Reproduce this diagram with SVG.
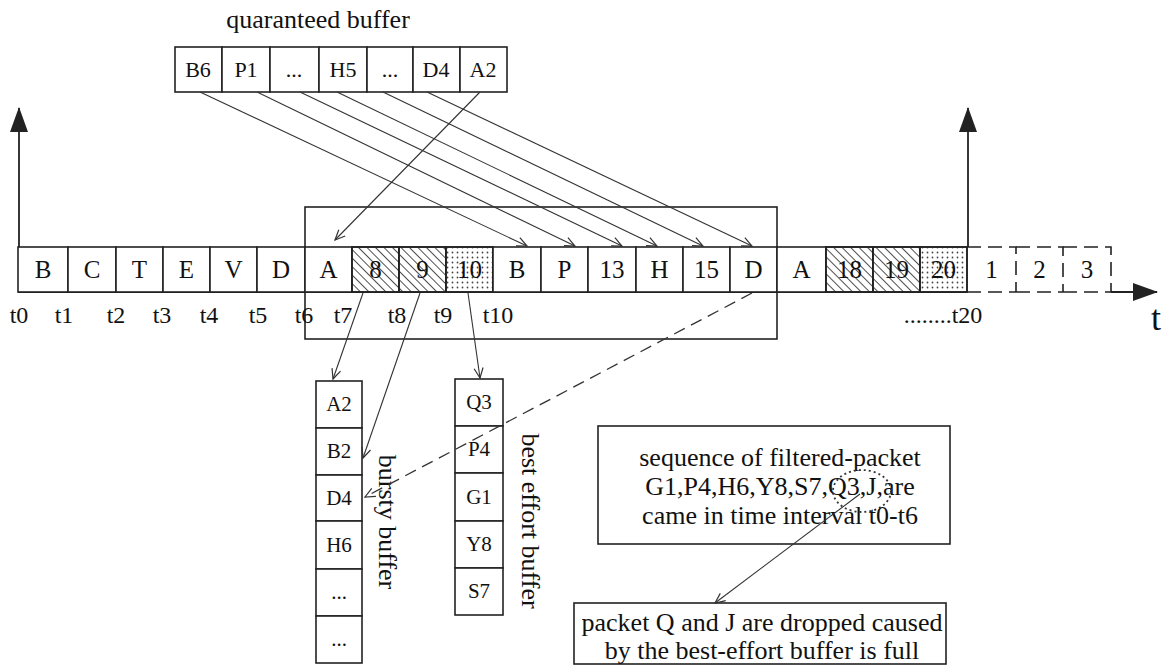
<svg xmlns="http://www.w3.org/2000/svg" width="1164" height="665" viewBox="0 0 1164 665">
<style>
text{font-family:"Liberation Serif","Times New Roman",serif;fill:#111;text-anchor:middle}
.box{fill:#fff;stroke:#222;stroke-width:1.6}
.frame{fill:none;stroke:#222;stroke-width:1.6}
.dash{fill:none;stroke:#222;stroke-width:1.6;stroke-dasharray:14 7}
.conn{fill:none;stroke:#333;stroke-width:1.1;marker-end:url(#open)}
.dconn{fill:none;stroke:#333;stroke-width:1.3;stroke-dasharray:12 7;marker-end:url(#open)}
.axis{fill:none;stroke:#222;stroke-width:1.8}
.cell{font-size:25px}
.qb{font-size:22px}
.sb{font-size:21px}
.lbl{font-size:24px}
.big{font-size:26px}
.hat{fill:url(#hatch);stroke:#222;stroke-width:1.6}
.dot{fill:url(#dots);stroke:#222;stroke-width:1.6}
</style>
<defs>
<marker id="open" viewBox="-11 -6 13 12" refX="0" refY="0" markerWidth="13" markerHeight="12" markerUnits="userSpaceOnUse" orient="auto">
<path d="M-10,-4.5 L0,0 L-10,4.5" fill="none" stroke="#333" stroke-width="1.2"/>
</marker>
<marker id="solid" viewBox="0 0 26 18" refX="24" refY="9" markerWidth="26" markerHeight="18" markerUnits="userSpaceOnUse" orient="auto">
<path d="M0,0 L25,9 L0,18 Z" fill="#222"/>
</marker>
<pattern id="hatch" width="6" height="6" patternUnits="userSpaceOnUse" patternTransform="rotate(-45)">
<line x1="0" y1="0" x2="0" y2="6" stroke="#222" stroke-width="1.6"/>
</pattern>
<pattern id="dots" width="5" height="5" patternUnits="userSpaceOnUse">
<circle cx="2.5" cy="2.5" r="0.9" fill="#444"/>
</pattern>
</defs>

<rect width="1164" height="665" fill="#fff"/>

<!-- guaranteed buffer -->
<g id="guaranteed-buffer">
<text x="318" y="28" class="big">quaranteed buffer</text>
<rect class="box" x="175" y="47" width="47" height="45"/>
<rect class="box" x="222" y="47" width="48" height="45"/>
<rect class="box" x="270" y="47" width="49" height="45"/>
<rect class="box" x="319" y="47" width="48" height="45"/>
<rect class="box" x="367" y="47" width="46" height="45"/>
<rect class="box" x="413" y="47" width="47" height="45"/>
<rect class="box" x="460" y="47" width="47" height="45"/>
<text x="198" y="77" class="qb">B6</text>
<text x="246" y="77" class="qb">P1</text>
<text x="294" y="77" class="qb">...</text>
<text x="343" y="77" class="qb">H5</text>
<text x="390" y="77" class="qb">...</text>
<text x="436" y="77" class="qb">D4</text>
<text x="483" y="77" class="qb">A2</text>
</g>

<!-- axes -->
<g id="axes">
<line class="axis" x1="19" y1="247" x2="19" y2="108" marker-end="url(#solid)"/>
<line class="axis" x1="968" y1="247" x2="968" y2="108" marker-end="url(#solid)"/>
<line class="axis" x1="18" y1="292" x2="967" y2="292"/>
<line class="axis" x1="1111" y1="292" x2="1157" y2="292" marker-end="url(#solid)"/>
<text x="1156" y="330" style="font-size:36px">t</text>
</g>

<!-- window frame -->
<g id="window">
<rect class="frame" x="305" y="207" width="472" height="132"/>
</g>

<!-- packet row -->
<g id="packet-row">
<g id="cell-B1"><rect class="box" x="18" y="247" width="50" height="45"/><text x="43" y="278" class="cell">B</text></g>
<g id="cell-C"><rect class="box" x="68" y="247" width="48" height="45"/><text x="92" y="278" class="cell">C</text></g>
<g id="cell-T"><rect class="box" x="116" y="247" width="47" height="45"/><text x="139.5" y="278" class="cell">T</text></g>
<g id="cell-E"><rect class="box" x="163" y="247" width="47" height="45"/><text x="186.5" y="278" class="cell">E</text></g>
<g id="cell-V"><rect class="box" x="210" y="247" width="47" height="45"/><text x="233.5" y="278" class="cell">V</text></g>
<g id="cell-D1"><rect class="box" x="257" y="247" width="48" height="45"/><text x="281" y="278" class="cell">D</text></g>
<g id="cell-A1"><rect class="box" x="305" y="247" width="47" height="45"/><text x="328.5" y="278" class="cell">A</text></g>
<g id="cell-8"><rect class="box" x="352" y="247" width="47" height="45"/><rect class="hat" x="352" y="247" width="47" height="45"/><text x="375.5" y="278" class="cell">8</text></g>
<g id="cell-9"><rect class="box" x="399" y="247" width="47" height="45"/><rect class="hat" x="399" y="247" width="47" height="45"/><text x="422.5" y="278" class="cell">9</text></g>
<g id="cell-10"><rect class="box" x="446" y="247" width="47" height="45"/><rect class="dot" x="446" y="247" width="47" height="45"/><text x="469.5" y="278" class="cell">10</text></g>
<g id="cell-B2"><rect class="box" x="493" y="247" width="48" height="45"/><text x="517" y="278" class="cell">B</text></g>
<g id="cell-P"><rect class="box" x="541" y="247" width="47" height="45"/><text x="564.5" y="278" class="cell">P</text></g>
<g id="cell-13"><rect class="box" x="588" y="247" width="48" height="45"/><text x="612" y="278" class="cell">13</text></g>
<g id="cell-H"><rect class="box" x="636" y="247" width="47" height="45"/><text x="659.5" y="278" class="cell">H</text></g>
<g id="cell-15"><rect class="box" x="683" y="247" width="47" height="45"/><text x="706.5" y="278" class="cell">15</text></g>
<g id="cell-D2"><rect class="box" x="730" y="247" width="47" height="45"/><text x="753.5" y="278" class="cell">D</text></g>
<g id="cell-A2"><rect class="box" x="777" y="247" width="49" height="45"/><text x="801.5" y="278" class="cell">A</text></g>
<g id="cell-18"><rect class="box" x="826" y="247" width="47" height="45"/><rect class="hat" x="826" y="247" width="47" height="45"/><text x="849.5" y="278" class="cell">18</text></g>
<g id="cell-19"><rect class="box" x="873" y="247" width="47" height="45"/><rect class="hat" x="873" y="247" width="47" height="45"/><text x="896.5" y="278" class="cell">19</text></g>
<g id="cell-20"><rect class="box" x="920" y="247" width="47" height="45"/><rect class="dot" x="920" y="247" width="47" height="45"/><text x="943.5" y="278" class="cell">20</text></g>
<g id="cell-f1"><path class="dash" d="M967,247 H1016 V292 M967,292 H1016"/><text x="991.5" y="278" class="cell">1</text></g>
<g id="cell-f2"><path class="dash" d="M1016,247 H1063 V292 M1016,292 H1063"/><text x="1039.5" y="278" class="cell">2</text></g>
<g id="cell-f3"><path class="dash" d="M1063,247 H1111 V292 M1063,292 H1111"/><text x="1087" y="278" class="cell">3</text></g>
</g>

<!-- time labels -->
<g id="time-labels">
<text x="19" y="323" class="lbl">t0</text>
<text x="64" y="323" class="lbl">t1</text>
<text x="116" y="323" class="lbl">t2</text>
<text x="162" y="323" class="lbl">t3</text>
<text x="209" y="323" class="lbl">t4</text>
<text x="258" y="323" class="lbl">t5</text>
<text x="304" y="323" class="lbl">t6</text>
<text x="343" y="323" class="lbl">t7</text>
<text x="397" y="323" class="lbl">t8</text>
<text x="443" y="323" class="lbl">t9</text>
<text x="498" y="323" class="lbl">t10</text>
<text x="943" y="323" class="lbl">........t20</text>
</g>

<!-- bursty buffer -->
<g id="bursty-buffer">
<rect class="box" x="316" y="381" width="46" height="47"/>
<rect class="box" x="316" y="428" width="46" height="47"/>
<rect class="box" x="316" y="475" width="46" height="46"/>
<rect class="box" x="316" y="521" width="46" height="48"/>
<rect class="box" x="316" y="569" width="46" height="47"/>
<rect class="box" x="316" y="616" width="46" height="47"/>
<text x="339" y="411" class="sb">A2</text>
<text x="339" y="458" class="sb">B2</text>
<text x="339" y="505" class="sb">D4</text>
<text x="339" y="552" class="sb">H6</text>
<text x="339" y="599" class="sb">...</text>
<text x="339" y="646" class="sb">...</text>
<text transform="translate(379,522) rotate(90)" class="big">bursty buffer</text>
</g>

<!-- best effort buffer -->
<g id="best-effort-buffer">
<rect class="box" x="455" y="379" width="48" height="47"/>
<rect class="box" x="455" y="426" width="48" height="47"/>
<rect class="box" x="455" y="473" width="48" height="48"/>
<rect class="box" x="455" y="521" width="48" height="47"/>
<rect class="box" x="455" y="568" width="48" height="47"/>
<text x="479" y="409" class="sb">Q3</text>
<text x="479" y="456" class="sb">P4</text>
<text x="479" y="504" class="sb">G1</text>
<text x="479" y="551" class="sb">Y8</text>
<text x="479" y="598" class="sb">S7</text>
<text transform="translate(522,521) rotate(90)" class="big">best effort buffer</text>
</g>

<!-- note boxes -->
<g id="note-sequence">
<rect class="box" x="598" y="426" width="352" height="118"/>
<text x="780" y="466" class="big">sequence of filtered-packet</text>
<text x="780" y="495" class="big">G1,P4,H6,Y8,S7,Q3,J,are</text>
<text x="780" y="524" class="big">came in time interval t0-t6</text>
<ellipse cx="862" cy="491" rx="29" ry="21" fill="none" stroke="#333" stroke-width="1.8" stroke-dasharray="2 3"/>
</g>
<g id="note-dropped">
<rect class="box" x="574" y="603" width="372" height="61"/>
<text x="762" y="631" class="big">packet Q and J are dropped caused</text>
<text x="762" y="659" class="big">by the best-effort buffer is full</text>
</g>

<!-- connectors -->
<g id="connectors">
<line class="conn" x1="200" y1="92" x2="527" y2="246"/>
<line class="conn" x1="257" y1="92" x2="575" y2="246"/>
<line class="conn" x1="300" y1="92" x2="622" y2="246"/>
<line class="conn" x1="337" y1="92" x2="657" y2="246"/>
<line class="conn" x1="383" y1="92" x2="703" y2="246"/>
<line class="conn" x1="427" y1="92" x2="752" y2="246"/>
<line class="conn" x1="480" y1="92" x2="335" y2="240"/>
<line class="conn" x1="363" y1="293" x2="333" y2="379"/>
<line class="conn" x1="420" y1="293" x2="363" y2="458"/>
<line class="conn" x1="468" y1="293" x2="480" y2="378"/>
<line class="dconn" x1="752" y1="293" x2="365" y2="497"/>
<line class="conn" x1="860" y1="494" x2="715" y2="603"/>
</g>
</svg>
